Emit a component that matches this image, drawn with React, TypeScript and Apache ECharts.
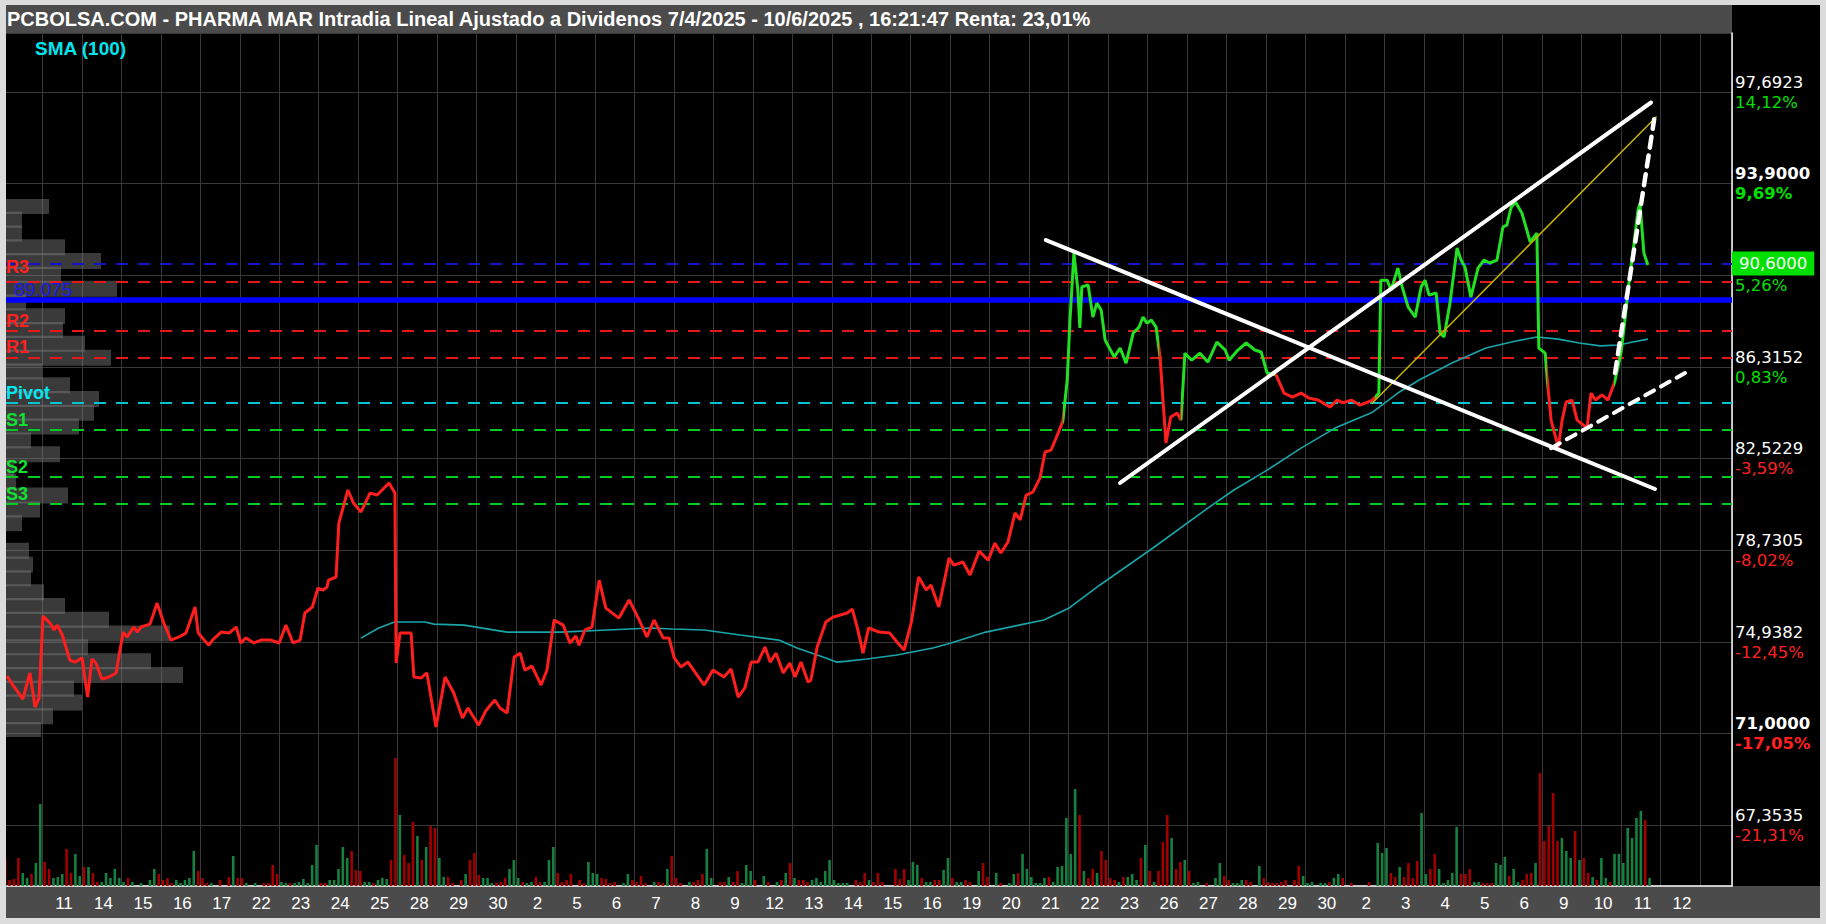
import React, { useEffect, useRef } from "react";
import * as echarts from "echarts";

// ---------------- DATA ----------------
const TITLE =
  "PCBOLSA.COM - PHARMA MAR Intradia Lineal Ajustado a Dividenos 7/4/2025 - 10/6/2025 , 16:21:47 Renta: 23,01%";

// trading-day labels (cell k = day index k)
const dayLabels = [
  "11", "14", "15", "16", "17", "22", "23", "24", "25", "28", "29", "30",
  "2", "5", "6", "7", "8", "9", "12", "13", "14", "15", "16", "19", "20", "21", "22", "23", "26", "27", "28", "29", "30",
  "2", "3", "4", "5", "6", "9", "10", "11", "12",
];

// price axis
const PRICE_MIN = 67.3535;
const PRICE_STEP = 3.79231;
const priceTickLabels = ["67,3535", "71,0000", "74,9382", "78,7305", "82,5229", "86,3152", "90,1075", "93,9000", "97,6923"];
const pctLabels = ["-21,31%", "-17,05%", "-12,45%", "-8,02%", "-3,59%", "0,83%", "5,26%", "9,69%", "14,12%"];
const boldTicks = [false, true, false, false, false, false, false, true, false];
// price text hidden behind the last-price box in the reference
const hiddenPriceTick = [false, false, false, false, false, false, true, false, false];

// pivot levels
const pivotNames = ["R3", "R2", "R1", "Pivot", "S1", "S2", "S3"];
const pivotValues = [89.83, 87.8, 86.72, 84.83, 83.71, 81.78, 80.65];
const lastPrice = 90.6;
const lastPriceLabel = "90,6000";
const avgLevel = 89.075;
const avgLabel = "89.075";

// intraday close line: [day position, price]
const pricePath: [number, number][] = [
  [-0.86, 73.53], [-0.68, 73.08], [-0.46, 72.58], [-0.28, 73.66], [-0.15, 72.25], [-0.05, 72.62], [0.05, 76.01], [0.23, 75.72],
  [0.33, 75.44], [0.41, 75.64], [0.54, 75.23], [0.73, 74.19], [0.86, 74.11], [1.04, 74.28], [1.18, 72.66], [1.29, 74.24],
  [1.39, 74.07], [1.54, 73.41], [1.72, 73.49], [1.9, 73.66], [2.08, 75.35], [2.18, 75.15], [2.35, 75.56], [2.44, 75.35],
  [2.53, 75.56], [2.76, 75.68], [2.94, 76.55], [3.11, 75.72], [3.29, 75.02], [3.49, 75.15], [3.67, 75.31], [3.9, 76.39],
  [3.98, 75.31], [4.13, 75.02], [4.25, 74.81], [4.34, 75.02], [4.56, 75.35], [4.76, 75.31], [4.94, 75.56], [5.06, 74.9],
  [5.19, 75.11], [5.39, 74.9], [5.57, 75.02], [5.82, 75.02], [6.03, 74.9], [6.2, 75.64], [6.38, 74.9], [6.56, 75.02],
  [6.68, 76.14], [6.87, 76.39], [7.01, 77.17], [7.14, 77.09], [7.24, 77.21], [7.28, 77.5], [7.47, 77.63], [7.54, 79.86],
  [7.77, 81.23], [7.91, 80.69], [8.1, 80.32], [8.33, 81.1], [8.51, 81.02], [8.81, 81.52], [8.96, 81.1], [8.99, 74.07],
  [9.09, 75.31], [9.37, 75.31], [9.44, 73.49], [9.62, 73.45], [9.77, 73.66], [10.0, 71.42], [10.23, 73.49], [10.45, 72.83],
  [10.67, 71.8], [10.81, 72.21], [11.08, 71.5], [11.27, 72.12], [11.49, 72.54], [11.62, 72.21], [11.8, 72.0], [11.98, 74.32],
  [12.13, 74.48], [12.25, 73.78], [12.43, 73.94], [12.66, 73.16], [12.81, 73.78], [12.99, 75.85], [13.22, 75.64], [13.39, 74.9],
  [13.54, 75.19], [13.62, 74.81], [13.77, 75.44], [13.95, 75.56], [14.13, 77.5], [14.3, 76.34], [14.63, 75.93], [14.89, 76.68],
  [15.11, 75.97], [15.34, 75.15], [15.52, 75.85], [15.75, 75.11], [15.9, 75.11], [16.03, 74.28], [16.2, 73.91], [16.38, 74.11],
  [16.61, 73.57], [16.79, 73.16], [17.01, 73.78], [17.29, 73.49], [17.47, 73.82], [17.65, 72.66], [17.82, 73.04], [17.98, 74.11],
  [18.15, 74.11], [18.33, 74.73], [18.46, 74.11], [18.61, 74.48], [18.79, 73.66], [18.96, 74.07], [19.09, 73.49], [19.24, 74.11],
  [19.42, 73.28], [19.49, 73.37], [19.65, 74.73], [19.87, 75.77], [20.05, 75.97], [20.41, 76.14], [20.54, 76.3], [20.68, 75.44],
  [20.81, 74.48], [20.95, 75.52], [21.22, 75.35], [21.49, 75.31], [21.67, 74.94], [21.85, 74.61], [22.03, 75.73], [22.22, 77.63],
  [22.41, 77.09], [22.53, 77.3], [22.73, 76.39], [22.99, 78.41], [23.11, 78.12], [23.34, 78.25], [23.52, 77.71], [23.75, 78.7],
  [23.98, 78.33], [24.15, 79.03], [24.3, 78.62], [24.48, 79.08], [24.66, 80.28], [24.79, 79.99], [24.94, 81.02], [25.11, 81.14],
  [25.29, 81.72], [25.42, 82.8], [25.57, 82.88], [25.7, 83.38], [25.87, 84.08], [25.98, 85.78], [26.05, 88.26], [26.15, 91.03],
  [26.25, 89.5], [26.3, 87.93], [26.35, 89.63], [26.51, 89.71], [26.63, 88.38], [26.73, 88.96], [26.84, 88.67], [26.94, 87.43],
  [27.17, 86.73], [27.32, 87.1], [27.47, 86.48], [27.65, 87.72], [27.8, 87.97], [27.9, 88.38], [28.0, 88.13], [28.11, 88.26],
  [28.23, 87.97], [28.33, 86.73], [28.48, 83.17], [28.6, 84.25], [28.76, 84.41], [28.86, 84.12], [28.96, 86.89], [29.13, 86.6],
  [29.34, 86.89], [29.54, 86.52], [29.77, 87.35], [29.98, 87.02], [30.08, 86.6], [30.3, 87.02], [30.51, 87.31], [30.73, 87.02],
  [30.89, 86.94], [31.04, 86.07], [31.27, 85.98], [31.47, 85.24], [31.68, 85.07], [31.9, 85.24], [32.1, 85.03], [32.33, 84.95],
  [32.63, 84.66], [32.81, 84.95], [32.96, 84.83], [33.17, 84.95], [33.39, 84.74], [33.6, 84.87], [33.71, 84.95], [33.87, 85.24],
  [33.92, 89.91], [34.08, 89.91], [34.18, 89.5], [34.35, 90.41], [34.46, 89.63], [34.61, 88.8], [34.79, 88.38], [34.94, 89.63],
  [35.04, 89.91], [35.14, 89.29], [35.32, 89.38], [35.42, 87.72], [35.52, 87.56], [35.67, 88.96], [35.85, 91.24], [35.95, 90.74],
  [36.05, 90.45], [36.2, 89.21], [36.38, 90.41], [36.53, 90.74], [36.68, 90.62], [36.86, 90.74], [37.01, 92.11], [37.11, 92.19],
  [37.22, 92.93], [37.33, 93.14], [37.49, 92.69], [37.6, 92.07], [37.7, 91.49], [37.87, 91.86], [37.92, 87.1], [38.08, 86.89],
  [38.13, 85.86], [38.23, 84.12], [38.41, 83.0], [38.51, 84.12], [38.61, 84.87], [38.76, 84.95], [38.89, 84.12], [39.14, 83.79],
  [39.24, 85.24], [39.35, 84.95], [39.52, 85.16], [39.67, 84.95], [39.84, 85.7], [40.0, 86.89], [40.1, 88.26], [40.2, 89.79],
  [40.3, 91.03], [40.43, 92.81], [40.48, 93.1], [40.58, 91.03], [40.68, 90.54],
];

// colour change points of the close line (red -> green -> red ...)
const colorBreaks = [25.87, 28.3, 28.87, 31.24, 33.76, 38.12, 39.83];

// SMA(100): [day position, value]
const smaPath: [number, number][] = [
  [8.1, 75.1], [8.55, 75.52], [8.95, 75.77], [9.72, 75.77], [9.95, 75.68], [10.71, 75.64], [11.8, 75.35], [13.14, 75.35],
  [14.35, 75.44], [15.44, 75.52], [15.98, 75.48], [16.79, 75.44], [17.7, 75.23], [18.68, 75.02], [19.14, 74.69], [19.87, 74.28],
  [20.13, 74.11], [20.41, 74.15], [20.91, 74.24], [21.67, 74.4], [22.58, 74.69], [23.04, 74.9], [23.92, 75.35], [24.76, 75.64],
  [25.39, 75.85], [26.03, 76.35], [26.81, 77.3], [28.15, 78.83], [29.54, 80.48], [30.2, 81.23], [31.04, 82.05], [31.9, 82.96],
  [32.76, 83.79], [33.71, 84.45], [34.35, 85.24], [34.89, 85.78], [35.72, 86.48], [36.58, 87.1], [37.34, 87.39], [37.87, 87.56],
  [38.41, 87.47], [38.94, 87.31], [39.47, 87.19], [39.95, 87.23], [40.3, 87.35], [40.68, 87.47],
];

// hand-drawn lines: [[day, price], [day, price]]
const trendDown: [number, number][] = [[25.44, 91.57], [40.86, 81.27]];
const trendUp: [number, number][] = [[27.32, 81.52], [40.76, 97.26]];
const trendYellow: [number, number][] = [[33.7, 84.82], [40.89, 96.66]];
const dashSteep: [number, number][] = [[39.85, 86.07], [40.84, 96.57]];
const dashLow: [number, number][] = [[38.23, 82.96], [41.62, 86.07]];

// intraday volume, 9 bars per day, day -1 first; + = up (green), - = down (red)
const volumeByDay: number[][] = [
  [-28, -6, -7, -28, 13, 8, -12, 23, 82],
  [-24, -17, 8, 9, 12, -37, -13, 32, 10],
  [-19, 19, -13, -4, 4, 13, 8, 17, 8],
  [4, -8, 4, 0, 3, 0, 6, 17, -12],
  [-6, -8, -3, 6, 3, 6, 8, 35, -15],
  [-8, -3, 3, 0, -6, 0, -9, 30, -8],
  [-8, 3, 0, 3, 0, -3, -3, -21, -12],
  [4, 3, -3, 3, 4, 7, 3, 21, 41],
  [-3, -3, 6, 6, 17, 39, 28, -35, -16],
  [-15, 4, 4, -3, 6, 8, 7, -26, -128],
  [71, -31, -23, -64, 50, -26, 39, -60, -58],
  [28, 9, -9, -3, 0, -6, 12, -26, -33],
  [-11, 8, 8, 3, -3, -4, -8, 17, 26],
  [8, -4, 3, 4, -9, -4, 4, 26, 39],
  [-13, -4, -6, -12, 0, -6, -3, 24, 13],
  [12, -8, -7, -3, -4, 0, 3, 12, -6],
  [-4, -10, -3, 0, 4, -4, -3, 17, -30],
  [-8, -3, 0, 4, -4, -6, -12, 37, 8],
  [0, -4, -4, 9, -4, -15, 3, 21, 15],
  [-6, 0, 10, -4, 0, 4, -6, 13, -23],
  [8, -6, -6, -4, 6, 8, 4, 15, 26],
  [6, 3, 3, 3, 0, -6, -4, -13, 6],
  [-4, -13, -4, 0, 0, -17, -7, -17, 6],
  [24, 21, -8, 4, 4, -6, -6, 16, 28],
  [-8, 4, 4, -6, -4, 0, 15, -23, -9],
  [0, 13, -3, 0, 3, 12, -13, 32, 17],
  [9, 3, 3, 8, -9, 4, 19, 20, 68],
  [32, 97, -71, 15, -8, -17, 13, -35, -26],
  [-8, -6, 4, -9, 9, 12, 6, -28, 41],
  [-15, 4, -15, -44, -71, 48, -17, -24, 26],
  [-15, 3, 4, 0, -3, 0, 8, 23, -10],
  [-6, 3, 3, 6, -6, -4, 0, 20, -8],
  [-4, -3, -3, -4, -6, 0, -6, -20, 10],
  [3, 4, 0, 3, 3, -4, 8, 12, -8],
  [0, -3, 0, 0, 0, -4, 0, 43, 33],
  [38, -13, -9, 19, -9, -23, -8, -25, 73],
  [12, -17, -32, 17, 3, 6, 13, 59, -12],
  [-12, -17, 4, 4, -3, -3, -3, 23, 21],
  [29, -10, 17, 4, -6, -12, -13, 23, -113],
  [-45, -60, -93, -45, 48, 35, 28, -55, 26],
  [-28, -13, 9, -6, 28, 8, -4, 32, 32],
  [23, 58, 48, 68, 75, -66, 8],
];

// volume-at-price profile, top bin first
const profileBins = [
  43, 16, 16, 59, 95, 55, 111, 20, 59, 57, 79, 105, 36, 64, 93, 88, 73, 25, 54, 8,
  10, 62, 34, 16, 0, 23, 27, 25, 38, 59, 103, 164, 82, 145, 177, 68, 76, 47, 35,
];

// ---------------- LAYOUT / STYLE ----------------
const W = 1826;
const H = 924;
const PLOT_L = 6;
const PLOT_R = 1732;
const PLOT_T = 33;
const PLOT_B = 886;
const DAY0_PX = 41;
const DAY_PX = 39.5;
const PRICE_BOTTOM_PX = 825.4;
const PX_PER_PRICE = 24.172;
const PROFILE_TOP = 199;
const PROFILE_BOTTOM = 737;

const RED = "#ff1e1e";
const GREEN = "#22e022";
const VOL_UP = "#15803f";
const VOL_DOWN = "#a00000";
const AXISFONT = "'DejaVu Sans', Verdana, sans-serif";
const ARIAL = "'Liberation Sans', Arial, Helvetica, sans-serif";

const X_MIN_0 = (PLOT_L - DAY0_PX) / DAY_PX;
const X_MAX = (PLOT_R - DAY0_PX) / DAY_PX;
const PRICE_MAX = PRICE_MIN + (PRICE_BOTTOM_PX - PLOT_T) / PX_PER_PRICE;

function buildOption() {
  const volData: any[] = [];
  volumeByDay.forEach((arr, i) => {
    const day = i - 1;
    arr.forEach((v, j) => {
      if (!v) return;
      volData.push({
        value: [day + (j + 0.5) / 9, Math.abs(v)],
        itemStyle: { color: v > 0 ? VOL_UP : VOL_DOWN },
      });
    });
  });

  const pieces: any[] = [];
  colorBreaks.forEach((b, i) => {
    const p: any = { lt: b, color: i % 2 === 0 ? RED : GREEN };
    if (i > 0) p.gte = colorBreaks[i - 1];
    pieces.push(p);
  });
  pieces.push({ gte: colorBreaks[colorBreaks.length - 1], color: colorBreaks.length % 2 === 0 ? RED : GREEN });

  const fmtPrice = (val: number) => {
    const i = Math.round((val - PRICE_MIN) / PRICE_STEP);
    if (i < 0 || i >= priceTickLabels.length) return "";
    if (Math.abs(val - (PRICE_MIN + i * PRICE_STEP)) > 0.01) return "";
    const b = boldTicks[i] ? "b" : "";
    const pct = pctLabels[i];
    const c = pct.startsWith("-") ? "r" : "g";
    const top = hiddenPriceTick[i] ? "{w|\u00a0}" : `{w${b}|${priceTickLabels[i]}}`;
    return `${top}\n{${c}${b}|${pct}}`;
  };

  const richBase = { fontFamily: AXISFONT, fontSize: 16.5, lineHeight: 20 };

  const pivotColor = (n: string) => (n.startsWith("R") ? "#e41818" : n === "Pivot" ? "#00c4cf" : "#00cc22");
  const pivotLabelColor = (n: string) => (n.startsWith("R") ? "#ff2020" : n === "Pivot" ? "#00e8f0" : "#11e033");

  const markData: any[] = [
    {
      yAxis: lastPrice,
      lineStyle: { color: "#1515c8", type: [12, 10], width: 2 },
      label: {
        show: true,
        position: "end",
        distance: 0,
        formatter: lastPriceLabel,
        color: "#ffffff",
        backgroundColor: "#00e000",
        padding: [4, 7, 3, 7],
        fontFamily: AXISFONT,
        fontSize: 16.5,
      },
    },
    ...pivotNames.map((n, i) => ({
      yAxis: pivotValues[i],
      lineStyle: { color: pivotColor(n), type: [12, 10], width: 2 },
      label: {
        show: true,
        position: "insideStartTop",
        distance: [0, n === "R3" ? 6 : 1],
        formatter: n,
        color: pivotLabelColor(n),
        fontWeight: "bold",
        fontFamily: ARIAL,
        fontSize: 18,
      },
    })),
    {
      yAxis: avgLevel,
      lineStyle: { color: "#0000ff", type: "solid", width: 5.5 },
      label: {
        show: true,
        position: "insideStartTop",
        distance: [8, 1],
        formatter: avgLabel,
        color: "#1a1ae6",
        fontFamily: ARIAL,
        fontSize: 19,
      },
    },
  ];

  const trend = (data: [number, number][], color: string, width: number, dash?: number[]) => ({
    type: "line",
    xAxisIndex: 0,
    yAxisIndex: 0,
    data,
    showSymbol: false,
    silent: true,
    z: 7,
    lineStyle: { color, width, type: dash ? dash : "solid", cap: "round" },
  });

  return {
    animation: false,
    backgroundColor: "#dcdcdc",
    graphic: [
      { type: "rect", shape: { x: PLOT_L, y: PLOT_T, width: PLOT_R - PLOT_L, height: PLOT_B - PLOT_T }, style: { fill: "#000" }, z: -5, silent: true },
      { type: "rect", shape: { x: PLOT_L, y: 5, width: PLOT_R - PLOT_L, height: PLOT_T - 5 }, style: { fill: "#4b4b4b" }, z: -5, silent: true },
      { type: "rect", shape: { x: PLOT_R, y: 5, width: 1820 - PLOT_R, height: PLOT_B - 5 }, style: { fill: "#000" }, z: -5, silent: true },
      { type: "rect", shape: { x: PLOT_L, y: PLOT_B, width: 1820 - PLOT_L, height: 918 - PLOT_B }, style: { fill: "#4b4b4b" }, z: -5, silent: true },
      { type: "rect", shape: { x: 0, y: 0, width: PLOT_L, height: H }, style: { fill: "#dcdcdc" }, z: 50, silent: true },
      {
        type: "text",
        x: 7,
        y: 19,
        z: 60,
        silent: true,
        style: { text: TITLE, fill: "#ffffff", fontFamily: ARIAL, fontWeight: "bold", fontSize: 20, verticalAlign: "middle", align: "left" },
      },
      {
        type: "text",
        x: 35,
        y: 48,
        z: 60,
        silent: true,
        style: { text: "SMA (100)", fill: "#00e5ee", fontFamily: ARIAL, fontWeight: "bold", fontSize: 19, verticalAlign: "middle", align: "left" },
      },
    ],
    grid: [
      { left: PLOT_L, right: W - PLOT_R, top: PLOT_T, bottom: H - PRICE_BOTTOM_PX, containLabel: false },
      { left: DAY0_PX - DAY_PX, right: W - PLOT_R, top: PLOT_T, bottom: H - PLOT_B, containLabel: false },
      { left: PLOT_L, width: 200, top: PROFILE_TOP, height: PROFILE_BOTTOM - PROFILE_TOP, containLabel: false },
    ],
    xAxis: [
      { gridIndex: 0, type: "value", min: X_MIN_0, max: X_MAX, show: false, splitLine: { show: false } },
      {
        gridIndex: 1,
        type: "value",
        min: -1,
        max: X_MAX,
        interval: 1,
        axisLine: { show: true, onZero: false, lineStyle: { color: "#ffffff", width: 1.5 } },
        axisTick: { show: false },
        splitLine: { show: true, lineStyle: { color: "#383838", width: 1 } },
        axisLabel: {
          color: "#ffffff",
          fontFamily: ARIAL,
          fontSize: 17,
          margin: 9,
          padding: [0, 0, 0, 43],
          hideOverlap: false,
          formatter: (v: number) => {
            const k = Math.round(v);
            if (Math.abs(v - k) > 1e-6) return "";
            return dayLabels[k] ?? "";
          },
        },
      },
      { gridIndex: 2, type: "value", min: 0, max: 200, show: false },
    ],
    yAxis: [
      {
        gridIndex: 0,
        type: "value",
        position: "right",
        min: PRICE_MIN,
        max: PRICE_MAX,
        interval: PRICE_STEP,
        axisLine: { show: false },
        axisTick: { show: false },
        splitLine: { show: true, lineStyle: { color: "#383838", width: 1 } },
        axisLabel: {
          margin: 3,
          formatter: fmtPrice,
          rich: {
            w: { ...richBase, color: "#ffffff" },
            wb: { ...richBase, color: "#ffffff", fontWeight: "bold" },
            g: { ...richBase, color: "#00e000" },
            gb: { ...richBase, color: "#00e000", fontWeight: "bold" },
            r: { ...richBase, color: "#ff2020" },
            rb: { ...richBase, color: "#ff2020", fontWeight: "bold" },
          },
        },
      },
      {
        gridIndex: 1,
        type: "value",
        position: "right",
        min: 0,
        max: PLOT_B - PLOT_T,
        axisLine: { show: true, onZero: false, lineStyle: { color: "#ffffff", width: 1.5 } },
        axisTick: { show: false },
        axisLabel: { show: false },
        splitLine: { show: false },
      },
      {
        gridIndex: 2,
        type: "category",
        inverse: true,
        data: profileBins.map((_, i) => String(i)),
        show: false,
      },
    ],
    visualMap: [
      {
        type: "piecewise",
        show: false,
        seriesIndex: 0,
        dimension: 0,
        pieces,
      },
    ],
    series: [
      {
        name: "close",
        type: "line",
        xAxisIndex: 0,
        yAxisIndex: 0,
        data: pricePath,
        showSymbol: false,
        silent: true,
        z: 5,
        lineStyle: { width: 3 },
      },
      {
        name: "SMA (100)",
        type: "line",
        xAxisIndex: 0,
        yAxisIndex: 0,
        data: smaPath,
        showSymbol: false,
        silent: true,
        z: 4,
        lineStyle: { width: 1.6, color: "#1aa5aa" },
        itemStyle: { color: "#1aa5aa" },
        markLine: { silent: true, symbol: ["none", "none"], data: markData, z: 4 },
      },
      {
        name: "volume",
        type: "bar",
        xAxisIndex: 1,
        yAxisIndex: 1,
        data: volData,
        barWidth: 2.6,
        silent: true,
        z: 2,
      },
      {
        name: "profile",
        type: "bar",
        xAxisIndex: 2,
        yAxisIndex: 2,
        data: profileBins,
        barWidth: 16,
        silent: true,
        z: 1,
        itemStyle: { color: "rgba(128,128,128,0.45)" },
      },
      trend(trendYellow, "#c8b400", 1.5),
      trend(trendDown, "#ffffff", 4),
      trend(trendUp, "#ffffff", 4),
      trend(dashSteep, "#ffffff", 4.5, [11, 8]),
      trend(dashLow, "#ffffff", 4, [10, 8]),
    ],
  };
}

export default function App() {
  const ref = useRef<HTMLDivElement>(null);
  useEffect(() => {
    document.body.style.margin = "0";
    if (!ref.current) return;
    const chart = echarts.init(ref.current, undefined, { renderer: "svg", width: W, height: H });
    chart.setOption(buildOption() as any);
    return () => chart.dispose();
  }, []);
  return <div ref={ref} style={{ width: W, height: H, background: "#dcdcdc" }} />;
}
